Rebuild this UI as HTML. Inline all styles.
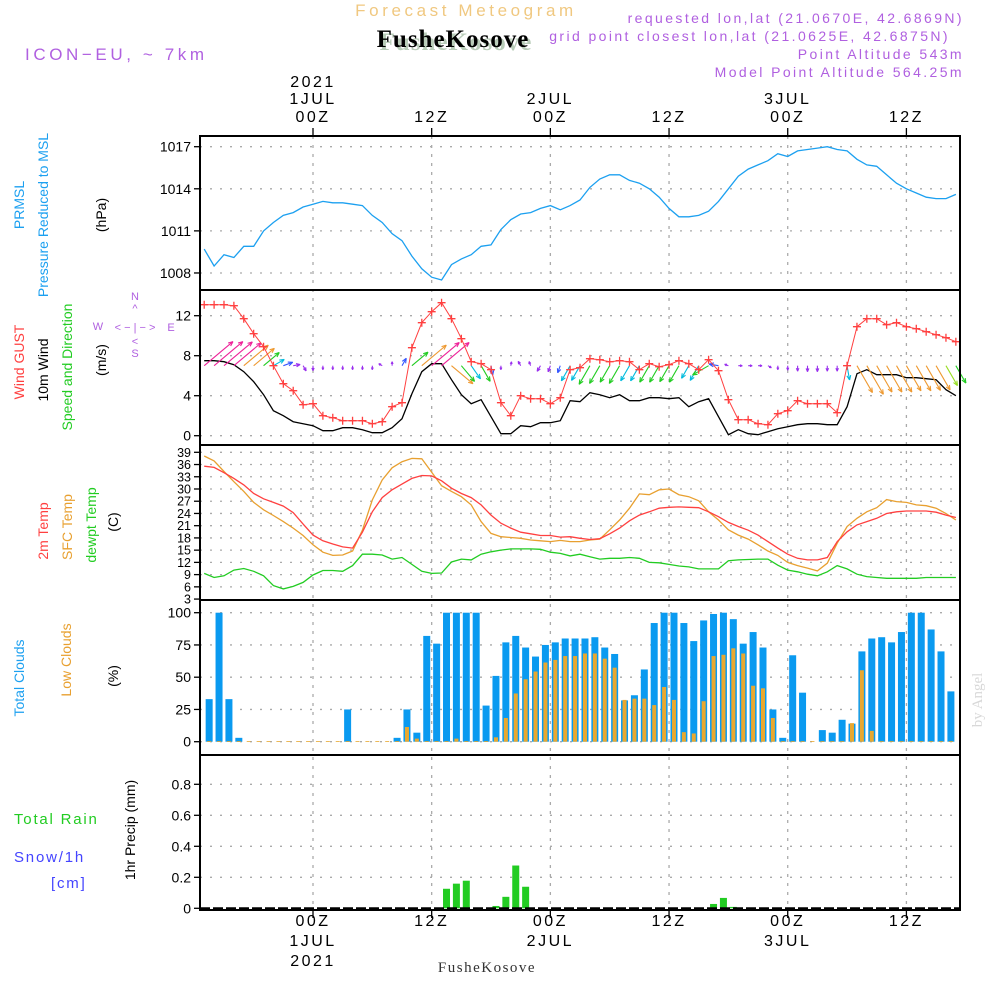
<!DOCTYPE html>
<html><head><meta charset="utf-8">
<style>
html,body{margin:0;padding:0;background:#fff;}
svg{display:block;}
</style></head>
<body>
<svg id="chart" width="1000" height="1000" viewBox="0 0 1000 1000" xmlns="http://www.w3.org/2000/svg" font-family="Liberation Sans, sans-serif">
  <g>
    <text x="466" y="16" font-size="17" fill="#f0c880" text-anchor="middle" letter-spacing="3.6">Forecast Meteogram</text>
    <text x="456" y="50" font-size="25" font-weight="bold" letter-spacing="1" style="font-family:'Liberation Serif',serif" fill="#b8ccb8" text-anchor="middle">FusheKosove</text>
    <text x="453" y="47" font-size="25" font-weight="bold" letter-spacing="1" style="font-family:'Liberation Serif',serif" fill="#000" text-anchor="middle">FusheKosove</text>
    <text x="25" y="60" font-size="17" fill="#b060e0" letter-spacing="3.6">ICON−EU, ~ 7km</text>
    <text x="964" y="23" font-size="14" fill="#b060e0" text-anchor="end" letter-spacing="2.4">requested lon,lat (21.0670E, 42.6869N)</text>
    <text x="950" y="41" font-size="14" fill="#b060e0" text-anchor="end" letter-spacing="2.4">grid point closest lon,lat (21.0625E, 42.6875N)</text>
    <text x="964" y="59" font-size="14" fill="#b060e0" text-anchor="end" letter-spacing="2.4">Point Altitude 543m</text>
    <text x="964" y="77" font-size="14" fill="#b060e0" text-anchor="end" letter-spacing="2.4">Model Point Altitude 564.25m</text>
  </g>
  <g id="grid"></g>
  <g id="marks"></g>
  <g id="axes"></g>
  <g font-size="14">
    <text transform="translate(24,205) rotate(-90)" fill="#1ca0f0" text-anchor="middle">PRMSL</text>
    <text transform="translate(48,215) rotate(-90)" fill="#1ca0f0" text-anchor="middle">Pressure Reduced to MSL</text>
    <text transform="translate(106,215) rotate(-90)" fill="#000" text-anchor="middle">(hPa)</text>
    <text transform="translate(24,362) rotate(-90)" fill="#ff4040" text-anchor="middle">Wind GUST</text>
    <text transform="translate(48,370) rotate(-90)" fill="#000" text-anchor="middle">10m Wind</text>
    <text transform="translate(72,367) rotate(-90)" fill="#22cc22" text-anchor="middle">Speed and Direction</text>
    <text transform="translate(106,360) rotate(-90)" fill="#000" text-anchor="middle">(m/s)</text>
    <g fill="#b060e0" font-size="11" text-anchor="middle">
      <text x="135" y="300">N</text><text x="135" y="312">^</text>
      <text x="135" y="331">&lt; − | − &gt;</text>
      <text x="98" y="330">W</text><text x="171" y="331">E</text>
      <text x="135" y="345">&lt;</text><text x="135" y="357">S</text>
    </g>
    <text transform="translate(48,531) rotate(-90)" fill="#ff4040" text-anchor="middle">2m Temp</text>
    <text transform="translate(72,527) rotate(-90)" fill="#e8a030" text-anchor="middle">SFC Temp</text>
    <text transform="translate(96,525) rotate(-90)" fill="#22cc22" text-anchor="middle">dewpt Temp</text>
    <text transform="translate(118,522) rotate(-90)" fill="#000" text-anchor="middle">(C)</text>
    <text transform="translate(24,678) rotate(-90)" fill="#1ca0f0" text-anchor="middle">Total Clouds</text>
    <text transform="translate(71,660) rotate(-90)" fill="#e8a030" text-anchor="middle">Low Clouds</text>
    <text transform="translate(118,676) rotate(-90)" fill="#000" text-anchor="middle">(%)</text>
    <text x="14" y="824" fill="#22cc22" font-size="15" letter-spacing="1.8">Total  Rain</text>
    <text x="14" y="862" fill="#4444ff" font-size="15" letter-spacing="1.8">Snow/1h</text>
    <text x="51" y="888" fill="#4444ff" font-size="15" letter-spacing="1.8">[cm]</text>
    <text transform="translate(135,830) rotate(-90)" fill="#000" text-anchor="middle">1hr Precip (mm)</text>
  </g>
  <text transform="translate(982,700) rotate(-90)" fill="#d8d8d8" font-size="15" style="font-family:'Liberation Serif',serif" text-anchor="middle">by Angel</text>
  <text x="487" y="972" font-size="15" style="font-family:'Liberation Serif',serif" fill="#333" text-anchor="middle" letter-spacing="1.5">FusheKosove</text>
</svg>
<script>
// ---------- data ----------
const pressure = [1009.7,1008.5,1009.3,1009.1,1009.9,1009.9,1011.0,1011.6,1012.1,1012.3,1012.7,1012.9,1013.1,1013.0,1013.0,1012.9,1012.8,1012.1,1011.6,1010.8,1010.3,1009.2,1008.3,1007.7,1007.5,1008.6,1009.0,1009.3,1009.9,1010.0,1011.1,1011.8,1012.2,1012.3,1012.6,1012.8,1012.5,1012.8,1013.2,1014.1,1014.7,1015.0,1015.0,1014.6,1014.4,1014.0,1013.4,1012.6,1012.0,1012.0,1012.1,1012.4,1013.1,1014.0,1014.9,1015.4,1015.7,1016.0,1016.5,1016.3,1016.7,1016.8,1016.9,1017.0,1016.8,1016.7,1016.1,1015.7,1015.6,1015.0,1014.4,1014.0,1013.7,1013.4,1013.3,1013.3,1013.6];
const gust = [13.1,13.1,13.1,13.0,11.7,10.2,8.9,7.0,5.2,4.5,3.1,3.2,2.0,1.8,1.5,1.5,1.5,1.2,1.4,2.9,3.3,8.8,11.3,12.4,13.3,11.7,9.7,7.4,7.2,6.6,3.3,2.0,4.0,3.7,3.7,3.2,3.8,6.6,6.8,7.7,7.6,7.4,7.5,7.4,6.6,7.2,6.9,7.1,7.5,7.2,6.6,7.6,6.5,3.6,1.6,1.6,1.2,1.1,2.2,2.5,3.5,3.2,3.2,3.2,2.3,7.0,10.9,11.7,11.7,11.1,11.3,10.9,10.7,10.4,10.1,9.8,9.4];
const wind10 = [7.5,7.5,7.4,7.1,6.4,5.4,4.1,2.5,2.0,1.4,1.2,1.0,0.5,0.5,0.8,0.8,0.6,0.3,0.3,0.8,1.7,4.2,6.4,7.2,7.2,5.6,4.1,3.2,3.6,1.9,0.2,0.2,1.0,0.9,1.3,1.3,1.5,3.5,3.4,4.3,4.1,3.8,4.1,3.5,3.5,3.8,3.8,3.7,3.8,2.9,3.4,3.7,1.9,0.1,0.6,0.2,0.1,0.4,0.7,0.9,1.1,1.2,1.2,1.1,1.1,2.9,6.2,6.6,6.1,6.1,6.1,5.8,5.8,5.7,5.6,4.6,4.0];
const windDir = [40,40,40,40,40,40,40,30,20,10,-60,-90,-90,-90,-90,-90,-90,-90,150,90,60,40,40,40,40,-40,-50,-55,-60,-80,-90,80,120,110,-120,-110,-110,-120,-120,-120,-120,-120,-120,-120,-120,-120,-120,-120,-120,-120,-120,-150,170,160,0,0,0,-30,-90,-90,-90,-90,-90,-90,-90,-80,-60,-60,-60,-60,-60,-60,-60,-60,-60,-60,-60];
const t2m = [35.6,35.3,34.0,32.6,31.0,28.9,27.6,26.7,25.8,24.2,21.4,18.7,17.3,16.5,15.8,15.5,19.4,24.4,27.9,29.8,31.2,32.6,33.3,33.2,32.0,30.2,28.9,27.9,26.1,23.6,21.6,20.4,19.4,19.0,18.6,18.6,18.2,18.3,17.9,17.6,17.8,19.0,20.4,22.2,23.6,24.4,25.3,25.5,25.6,25.5,25.4,24.4,23.2,21.8,20.8,19.9,18.7,17.1,15.5,14.0,13.0,12.6,12.6,13.2,17.1,19.5,21.2,22.0,22.8,24.0,24.4,24.6,24.6,24.6,24.3,23.6,23.0];
const tsfc = [38.1,36.9,34.3,31.8,29.4,26.7,24.9,23.5,22.0,20.4,18.6,16.3,14.5,13.7,13.8,14.8,19.9,27.3,32.2,35.2,36.7,37.5,37.4,34.1,30.8,29.4,28.1,26.1,22.0,19.1,18.3,18.1,17.9,17.5,17.3,17.1,17.4,17.1,17.1,17.5,17.7,20.0,22.4,25.3,28.8,28.6,29.8,30.0,28.6,28.1,27.1,24.4,22.4,20.0,18.7,17.7,16.3,14.8,13.7,12.0,11.2,10.6,9.9,11.8,16.7,20.8,22.8,24.4,25.4,27.4,26.9,26.7,26.1,25.9,25.3,24.0,22.4];
const dewpt = [9.3,8.3,8.7,10.1,10.5,9.8,8.7,6.3,5.5,6.1,7.1,8.9,10.0,10.0,9.8,11.2,14.0,14.0,13.8,12.8,13.2,11.5,9.8,9.3,9.4,12.1,12.8,12.6,14.0,14.6,15.0,15.3,15.3,15.3,15.2,14.5,14.2,13.6,14.0,13.4,12.8,13.0,13.0,13.2,13.0,12.0,11.9,11.5,11.1,10.9,10.4,10.4,10.4,12.4,12.6,12.7,12.8,12.8,11.3,10.1,9.7,9.1,8.7,9.7,11.2,10.4,9.1,8.5,8.3,8.1,8.1,8.1,8.1,8.3,8.3,8.3,8.3];
const totalClouds = [33,100,33,3,0,0,0,0,0,0,0,0,0,0,25,0,0,0,0,3,25,7,82,76,100,100,100,100,28,51,77,82,73,66,75,77,80,80,80,81,73,68,32,36,56,92,100,100,92,78,94,99,100,95,76,85,73,25,3,67,38,0,9,7,17,14,70,80,81,77,85,100,100,87,70,39];
const lowClouds = [0,0,0,0,0,0,0,0,0,0,0,0,0,0,0,0,0,0,0,0,11,2,0,0,0,2,0,0,0,3,18,37,48,54,61,63,66,66,68,68,64,57,32,33,33,28,42,32,7,6,31,66,67,72,68,43,41,18,0,0,0,0,0,0,0,14,55,8,0,0,0,0,0,0,0,0];
const precip = [0,0,0,0,0,0,0,0,0,0,0,0,0,0,0,0,0,0,0,0,0,0,0,0,0.126,0.159,0.178,0,0,0.015,0.074,0.276,0.139,0,0,0,0,0,0,0,0,0,0,0,0,0,0,0,0,0,0,0.028,0.067,0.009,0,0,0,0,0,0,0,0,0,0,0,0,0,0,0,0,0,0,0,0,0,0];
const pTicks = [1008,1011,1014,1017];
const wTicks = [0,4,8,12];
const tTicks = [3,6,9,12,15,18,21,24,27,30,33,36,39];
const cTicks = [0,25,50,75,100];
const rTicks = [0,0.2,0.4,0.6,0.8];
const rTickLabels = ["0","0.2","0.4","0.6","0.8"];
const timeHours = [0,12,24,36,48,60];
const timeLabels = ["00Z","12Z","00Z","12Z","00Z","12Z"];
const dayLabels = ["1JUL","","2JUL","","3JUL",""];
const yearLabels = ["2021","","","","",""];
const startHour = -11;

// ---------- scales ----------
const X0 = 200, X1 = 960;
const xh = h => 313 + h * 9.89;
const yP = p => 146.7 + (1017 - p) * 14.03;
const yW = v => 435.7 - v * 10;
const yT = t => 452.3 + (39 - t) * 4.077;
const yC = c => 741.7 - c * 1.29;
const yR = r => 908.3 - r * 155;
const panels = [[136,290],[290,445],[445,600],[600,755],[755,910]];

const NS = "http://www.w3.org/2000/svg";
function mk(tag, parent, attrs) {
  const e = document.createElementNS(NS, tag);
  for (const k in attrs) e.setAttribute(k, attrs[k]);
  parent.appendChild(e);
  return e;
}
const grid = document.getElementById('grid');
const marks = document.getElementById('marks');
const axes = document.getElementById('axes');

function hgrid(ticks, fy, name) {
  ticks.forEach(t => {
    const y = fy(t);
    const l = mk('line', grid, {x1:X0, x2:X1, y1:y, y2:y, stroke:'#aaa', 'stroke-width':1.3, 'stroke-dasharray':'2,8'});
    
    
  });
}
hgrid(pTicks, yP, 'pressure');
hgrid(wTicks, yW, 'wind');
hgrid(tTicks.filter(t => t > 3), yT, 'temp');
hgrid(cTicks, yC, 'cloud');
hgrid(rTicks.filter(t => t > 0), yR, 'precip');
timeHours.forEach(h => {
  const l = mk('line', grid, {x1:xh(h), x2:xh(h), y1:136, y2:910, stroke:'#aaa', 'stroke-width':1.3, 'stroke-dasharray':'3,6'});
  
  
});

function line(vals, fy, color, name, w) {
  const pts = vals.map((v, i) => xh(startHour + i).toFixed(1) + ',' + fy(v).toFixed(1)).join(' ');
  const p = mk('polyline', marks, {points:pts, fill:'none', stroke:color, 'stroke-width':w || 1.3});
  
  
}
line(pressure, yP, '#1ca0f0', 'pressure-line');

totalClouds.forEach((v, i) => {
  const cx = xh(startHour + i + 0.5);
  const r = mk('rect', marks, {x:cx - 3.5, y:yC(v), width:7, height:Math.max(0, yC(0) - yC(v)), fill:'#0a9af0'});
  
  
});
lowClouds.forEach((v, i) => {
  const cx = xh(startHour + i + 0.5);
  const r = mk('rect', marks, {x:cx - 2, y:yC(v) - 0.5, width:4, height:Math.max(0.8, yC(0) - yC(v) + 0.5), fill:'#e8a830'});
  
  
});
precip.forEach((v, i) => {
  if (v <= 0) return;
  const cx = xh(startHour + i + 0.5);
  const r = mk('rect', marks, {x:cx - 3.5, y:yR(v), width:7, height:yR(0) - yR(v), fill:'#22cc22'});
  
  
});
const dl = mk('line', marks, {x1:X0, x2:X1, y1:yR(0), y2:yR(0), stroke:'#000', 'stroke-width':2, 'stroke-dasharray':'10,3'});



line(tsfc, yT, '#e8a030', 'sfc-temp-line');
line(t2m, yT, '#ff4040', 't2m-line');
line(dewpt, yT, '#22cc22', 'dewpt-line');

line(wind10, yW, '#000', 'wind10m-line');
function windColor(s) {
  if (s < 1.5) return '#9a30ee';
  if (s < 2.5) return '#3355ff';
  if (s < 3.6) return '#00bbdd';
  if (s < 4.5) return '#22cc22';
  if (s < 5.3) return '#99dd22';
  if (s < 6.8) return '#ee9930';
  return '#ee2299';
}
wind10.forEach((s, i) => {
  const x = xh(startHour + i), y = yW(7);
  const len = Math.max(4, s * 5);
  const a = windDir[i] * Math.PI / 180;
  const x2 = x + len * Math.cos(a), y2 = y - len * Math.sin(a);
  const c = windColor(s);
  const g = mk('g', marks, {stroke:c, 'stroke-width':1.1, fill:'none'});
  
  
  mk('line', g, {x1:x, y1:y, x2:x2, y2:y2});
  const hl = Math.min(5, len * 0.6);
  [0.4, -0.4].forEach(d => {
    const b = a + Math.PI + d;
    mk('line', g, {x1:x2, y1:y2, x2:x2 + hl * Math.cos(b), y2:y2 - hl * Math.sin(b)});
  });
});
line(gust, yW, '#ff4040', 'gust-line', 1);
gust.forEach((v, i) => {
  const x = xh(startHour + i), y = yW(v);
  const g = mk('path', marks, {d:`M${x-4},${y}H${x+4}M${x},${y-4}V${y+4}`, stroke:'#ff4040', 'stroke-width':1.3});
  
  
});

panels.forEach(p => {
  const r = mk('rect', axes, {x:X0, y:p[0], width:X1 - X0, height:p[1] - p[0], fill:'none', stroke:'#000', 'stroke-width':2});
  
  
});
function yaxis(ticks, labels, fy, name) {
  ticks.forEach((t, i) => {
    const y = fy(t);
    mk('line', axes, {x1:X0 - 6, x2:X0, y1:y, y2:y, stroke:'#000', 'stroke-width':1.3});
    const tx = mk('text', axes, {x:X0 - 9, y:y + 5, 'font-size':14, 'text-anchor':'end', fill:'#000'});
    
    
    tx.textContent = labels[i];
  });
}
yaxis(pTicks, pTicks.map(String), yP, 'pressure');
yaxis(wTicks, wTicks.map(String), yW, 'wind');
tTicks.forEach(t => {
  const y = yT(t);
  mk('line', axes, {x1:X0 - 6, x2:X0, y1:y, y2:y, stroke:'#000', 'stroke-width':1.3});
  const tx = mk('text', axes, {x:X0 - 9, y:y + 4.5, 'font-size':12.5, 'text-anchor':'end', fill:'#000'});
  
  
  tx.textContent = String(t);
});
yaxis(cTicks, cTicks.map(String), yC, 'cloud');
yaxis(rTicks, rTickLabels, yR, 'precip');

timeHours.forEach((h, i) => {
  const x = xh(h);
  mk('line', axes, {x1:x, x2:x, y1:128, y2:136, stroke:'#000', 'stroke-width':1.3});
  mk('line', axes, {x1:x, x2:x, y1:910, y2:918, stroke:'#000', 'stroke-width':1.3});
  const rows = [[timeLabels[i], 122, 926], [dayLabels[i], 104, 946], [yearLabels[i], 87, 966]];
  rows.forEach(r => {
    if (!r[0]) return;
    [r[1], r[2]].forEach(yy => {
      const tx = mk('text', axes, {x:x, y:yy, 'font-size':16, 'text-anchor':'middle', fill:'#000', 'letter-spacing':2.5});
      
      
      tx.textContent = r[0];
    });
  });
});
</script>
</body></html>
